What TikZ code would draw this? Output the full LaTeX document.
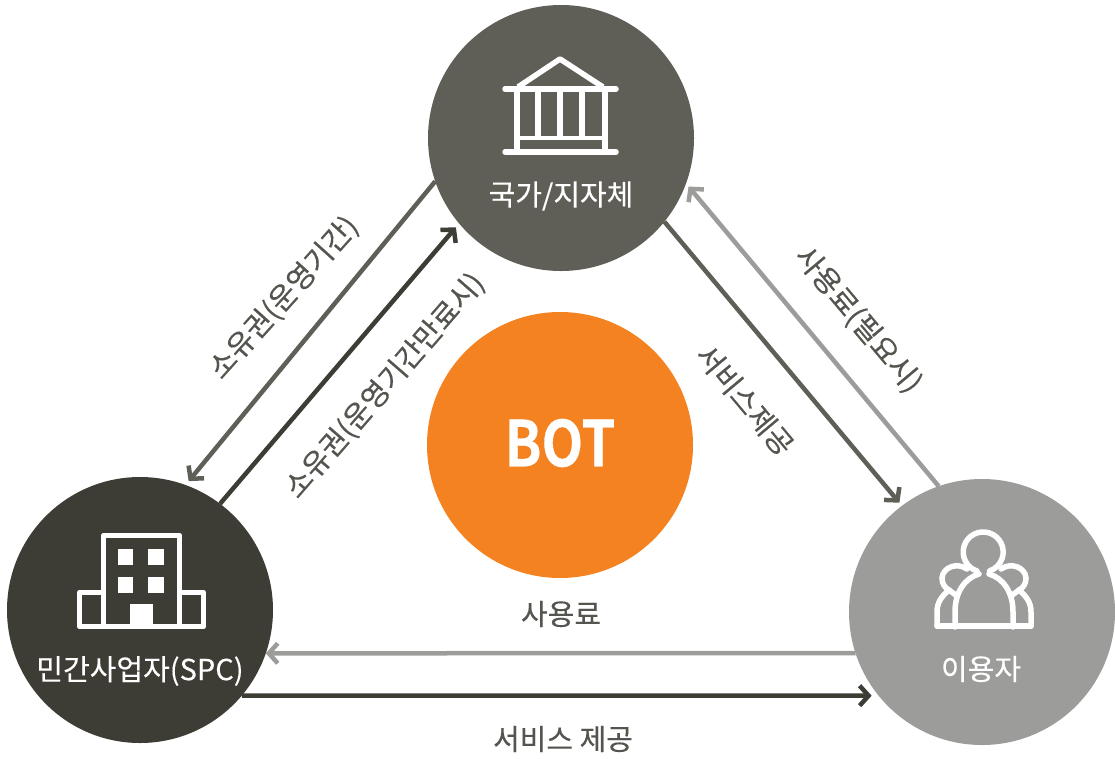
\documentclass[tikz,border=0pt]{standalone}
\usepackage{fontspec}
\setmainfont[FakeBold=0.25]{Noto Sans CJK KR}
\newfontfamily\botfont[FakeBold=0.5]{Noto Sans CJK KR Bold}
\usetikzlibrary{arrows.meta}
\definecolor{govc}{HTML}{605F57}
\definecolor{spcc}{HTML}{3D3C35}
\definecolor{usrc}{HTML}{9C9C9B}
\definecolor{botc}{HTML}{F58220}
\definecolor{txtc}{HTML}{55554F}
\tikzset{
  hub/.style={circle,minimum size=266pt,inner sep=0pt,outer sep=0pt},
  hublabel/.style={text=white,font=\fontsize{29}{32}\selectfont,inner sep=0pt},
  edgelabel/.style={text=txtc,font=\fontsize{29}{32}\selectfont,inner sep=0pt},
  flow/.style={line width=4.5pt,-{Straight Barb[length=9pt,width=20pt,line width=4.5pt]}},
  icon/.style={draw=white,line width=5.5pt},
  iconfill/.style={fill=white},
}
\begin{document}
\begin{tikzpicture}[x=1pt,y=-1pt]
\useasboundingbox (0,0) rectangle (1115,758);
\node[hub,fill=govc] (gov) at (561,138) {};
\node[hub,fill=spcc] (spc) at (140,610) {};
\node[hub,fill=usrc] (usr) at (982,612) {};
\node[hub,fill=botc] (bot) at (560,445) {};
% connectors
\draw[flow,draw=govc,shorten >=5pt] (gov.199.4) -- (spc.70.5);
\draw[flow,draw=spcc,shorten >=5pt] (spc.53.2) -- (gov.220.6);
\draw[flow,draw=usrc,shorten >=4pt] (usr.109.4) -- (gov.-20);
\draw[flow,draw=govc,shorten >=4pt] (gov.-39.9) -- (usr.127.6);
\draw[flow,draw=usrc] (usr.198.86) -- (spc.-19.78);
\draw[flow,draw=spcc,shorten >=7pt] (spc.-40.3) -- (usr.219.16);
% labels
\node[hublabel] (govl) at (561,196) {국가/지자체};
\node[hublabel] (spcl) at (140,671) {민간사업자(SPC)};
\node[hublabel] (usrl) at (981,669) {이용자};
\node[text=white,font=\botfont\fontsize{63}{66}\selectfont,inner sep=0pt] (botl) at (560,443) {\scalebox{0.86}[1]{BOT}};
\node[edgelabel,rotate=48] (l1) at (284,298) {소유권(운영기간)};
\node[edgelabel,rotate=49] (l2) at (385,386) {소유권(운영기간만료시)};
\node[edgelabel,rotate=-50] (l3) at (858,320) {사용료(필요시)};
\node[edgelabel,rotate=-50] (l4) at (745,400) {서비스제공};
\node[edgelabel] (l5) at (561,614) {사용료};
\node[edgelabel] (l6) at (563,739) {서비스 제공};
% bank icon
\draw[icon,line join=round] (518,87) -- (560,59) -- (603,87);
\draw[icon,line cap=round] (505,89) -- (616,89);
\draw[icon,line cap=round] (505,152) -- (616,152);
\draw[icon,line width=3.5pt] (517,138) -- (605,138);
\foreach \cx in {517,605} \draw[icon] (\cx,89) -- (\cx,152);
\foreach \cx in {538,560,582} \draw[icon] (\cx,89) -- (\cx,138);
% building icon
\draw[icon,line join=round] (103.5,626.5) -- (103.5,535.5) -- (179.5,535.5) -- (179.5,626.5);
\draw[icon,line join=round] (103.5,592.5) -- (79.5,592.5) -- (79.5,626.5) -- (203.5,626.5) -- (203.5,592.5) -- (179.5,592.5);
\fill[iconfill] (118,549) rectangle (133,565);
\fill[iconfill] (148,549) rectangle (164,565);
\fill[iconfill] (118,577) rectangle (133,593);
\fill[iconfill] (148,577) rectangle (164,593);
\fill[iconfill] (130,604) rectangle (153,627);
% people icon
\draw[icon,line cap=round] (977,571) arc[start angle=108,end angle=432,radius=20];
\draw[icon,line cap=round,line join=round] (955,627) -- (955,612) .. controls (955,592) and (965,578) .. (979,574);
\draw[icon,line cap=round,line join=round] (1013,627) -- (1013,612) .. controls (1013,592) and (1003,578) .. (989,574);
\draw[icon,line join=round,line cap=round] (937,626) -- (1031,626);
\draw[icon,line cap=round] (937,626) -- (937,612) .. controls (937,602) and (942,596) .. (949,590);
\draw[icon,line cap=round] (1031,626) -- (1031,612) .. controls (1031,602) and (1026,596) .. (1019,590);
\draw[icon,line cap=round] (967,569) .. controls (957,562) and (943,567) .. (942,578) .. controls (942,584) and (945,588) .. (949,590);
\draw[icon,line cap=round] (1001,569) .. controls (1011,562) and (1025,567) .. (1026,578) .. controls (1026,584) and (1023,588) .. (1019,590);
\draw[icon,line cap=round] (949,590) -- (957,596);
\draw[icon,line cap=round] (1019,590) -- (1011,596);
\end{tikzpicture}
\end{document}
